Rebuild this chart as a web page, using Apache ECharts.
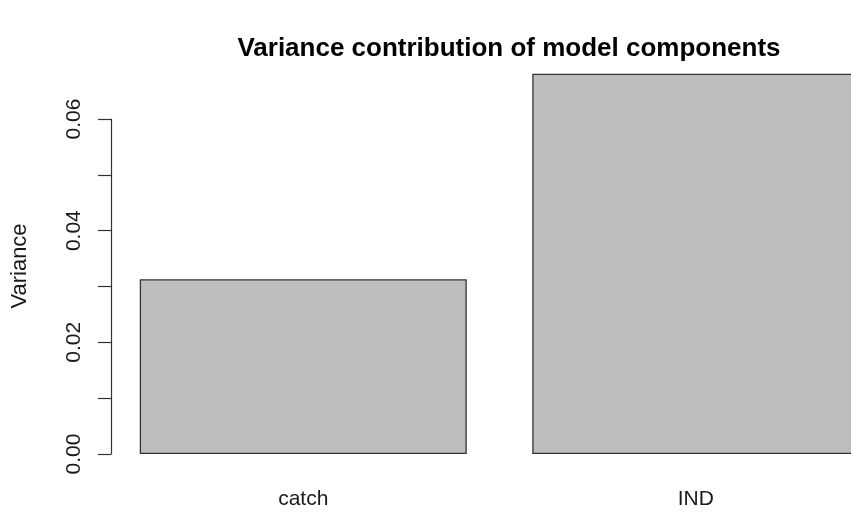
<!DOCTYPE html>
<html>
<head>
<meta charset="utf-8">
<script src="https://cdn.jsdelivr.net/npm/echarts@6/dist/echarts.min.js"></script>
<style>
html,body{margin:0;padding:0;background:#fff;}
#chart{width:851px;height:512px;}
</style>
</head>
<body>
<div id="chart"></div>
<script>
var categories = ['catch', 'IND'];
var variances = [0.0313, 0.0681];
var yTicks = [0, 0.06, 0.01];

var chart = echarts.init(document.getElementById('chart'), null, {renderer: 'canvas'});
var font = '"Liberation Sans", Arial, sans-serif';
chart.setOption({
  animation: false,
  backgroundColor: '#ffffff',
  title: {
    text: 'Variance contribution of model components',
    left: 504,
    top: 31,
    textAlign: 'center',
    textStyle: {fontFamily: font, fontWeight: 'bold', fontSize: 26, color: '#000'}
  },
  graphic: [{
    type: 'text',
    x: 20, y: 266,
    rotation: Math.PI / 2,
    style: {text: 'Variance', font: '22px ' + font, fill: '#1a1a1a', textAlign: 'center', textVerticalAlign: 'middle'}
  }],
  grid: {left: 107, width: 785, top: 119, bottom: 58, containLabel: false, outerBoundsMode: 'none'},
  xAxis: {
    type: 'category',
    data: categories,
    axisLine: {show: false},
    axisTick: {show: false},
    axisLabel: {fontFamily: font, fontSize: 21, color: '#1a1a1a', margin: 35}
  },
  yAxis: {
    type: 'value',
    min: yTicks[0], max: yTicks[1], interval: yTicks[2],
    offset: -4,
    splitLine: {show: false},
    axisLine: {show: true, lineStyle: {color: '#333', width: 1.2}},
    axisTick: {show: true, length: 13, lineStyle: {color: '#333', width: 1.2}},
    axisLabel: {
      rotate: 90, fontFamily: font, fontSize: 21, color: '#1a1a1a', margin: 26,
      formatter: function (v) {
        var k = Math.round(v * 100);
        return k % 2 === 0 ? v.toFixed(2) : '';
      }
    }
  },
  series: [{
    type: 'bar',
    data: variances,
    barWidth: 327,
    clip: false,
    itemStyle: {color: '#bebebe', borderColor: '#333', borderWidth: 1.3}
  }]
});
</script>
</body>
</html>
